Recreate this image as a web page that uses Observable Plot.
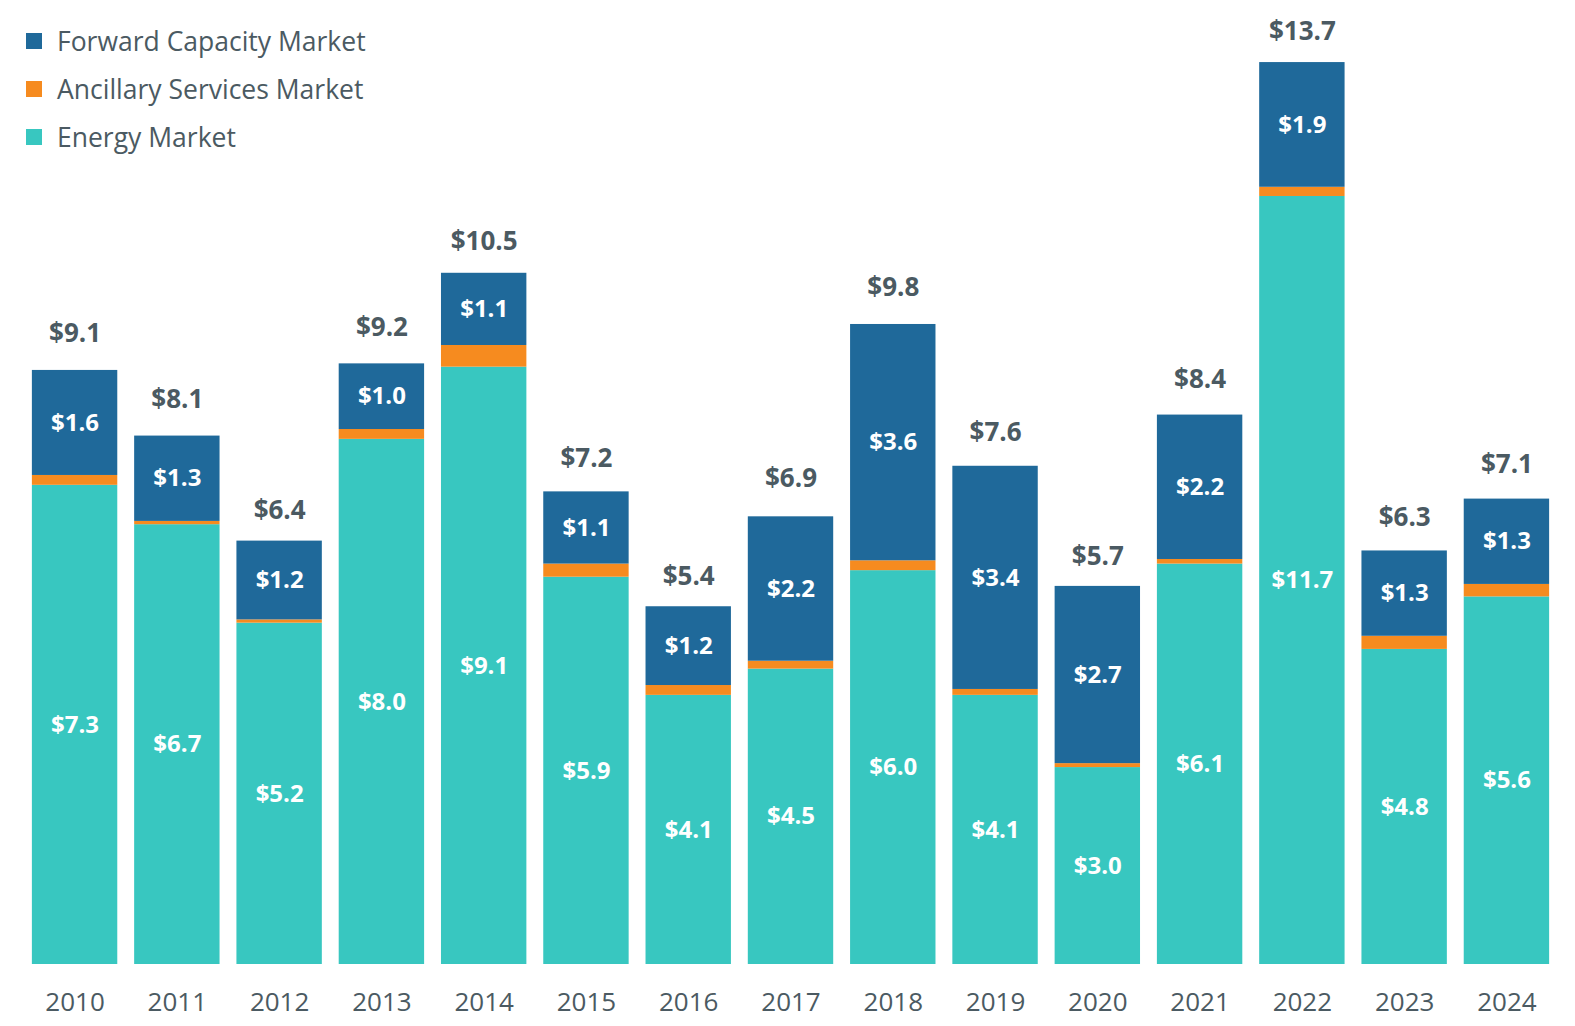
<!DOCTYPE html>
<html>
<head>
<meta charset="utf-8">
<script src="https://cdn.jsdelivr.net/npm/d3@7"></script>
<script src="https://cdn.jsdelivr.net/npm/@observablehq/plot@0.6"></script>
<style>
  html, body { margin: 0; padding: 0; background: #fff; }
  #wrap { position: relative; width: 1575px; height: 1026px; font-family: "Open Sans", sans-serif; }
  #legend { position: absolute; left: 26px; top: 17px; color: #4b5a62; font-size: 26.5px; }
  .row { display: flex; align-items: center; height: 48px; }
  .sw { width: 16px; height: 16px; margin-right: 15px; }
</style>
</head>
<body>
<div id="wrap">
  <div id="chart"></div>
  <div id="legend"></div>
</div>
<script>
const years = [2010, 2011, 2012, 2013, 2014, 2015, 2016, 2017, 2018, 2019, 2020, 2021, 2022, 2023, 2024];
const energy = [7.3, 6.7, 5.2, 8.0, 9.1, 5.9, 4.1, 4.5, 6.0, 4.1, 3.0, 6.1, 11.7, 4.8, 5.6];
const ancillary = [0.15, 0.05, 0.05, 0.15, 0.33, 0.2, 0.15, 0.12, 0.15, 0.09, 0.06, 0.07, 0.14, 0.2, 0.19];
const fcm = [1.6, 1.3, 1.2, 1.0, 1.1, 1.1, 1.2, 2.2, 3.6, 3.4, 2.7, 2.2, 1.9, 1.3, 1.3];
const totals = [9.1, 8.1, 6.4, 9.2, 10.5, 7.2, 5.4, 6.9, 9.8, 7.6, 5.7, 8.4, 13.7, 6.3, 7.1];

const seriesNames = ["Energy Market", "Ancillary Services Market", "Forward Capacity Market"];
const seriesColors = ["#38c7c0", "#f68b1f", "#1f699a"];
const legendOrder = ["Forward Capacity Market", "Ancillary Services Market", "Energy Market"];

const rows = [];
years.forEach((y, i) => {
  rows.push({year: String(y), series: seriesNames[0], value: energy[i]});
  rows.push({year: String(y), series: seriesNames[1], value: ancillary[i]});
  rows.push({year: String(y), series: seriesNames[2], value: fcm[i]});
});
const totalRows = years.map((y, i) => ({year: String(y), total: totals[i]}));

const stackOpts = {x: "year", y: "value", fill: "series", order: seriesNames};

const chart = Plot.plot({
  width: 1575,
  height: 1026,
  marginTop: 45,
  marginBottom: 62,
  marginLeft: 15,
  marginRight: 9,
  style: {fontFamily: "Open Sans, sans-serif", background: "#fff"},
  x: {domain: years.map(String), padding: 0.165, round: false, label: null, tickSize: 0, tickPadding: 28},
  y: {domain: [0, 14], axis: null},
  color: {domain: seriesNames, range: seriesColors},
  marks: [
    Plot.barY(rows, Plot.stackY({...stackOpts})),
    Plot.text(rows, Plot.stackY({
      ...stackOpts,
      fill: null,
      text: d => d.series === "Ancillary Services Market" ? null : "$" + d.value.toFixed(1),
      z: "series"
    })),
    Plot.text(totalRows, {
      x: "year", y: "total",
      text: d => "$" + d.total.toFixed(1),
      lineAnchor: "bottom", dy: -25,
      fill: "#4b5a62", fontWeight: "bold", fontSize: 26
    })
  ]
});

d3.select(chart).selectAll("g[aria-label='text']").each(function(_, i) {
  if (i === 0) d3.select(this).attr("fill", "#fff").attr("font-weight", "bold").attr("font-size", 24);
});
d3.select(chart).selectAll("g[aria-label='x-axis tick label']").attr("font-size", 26).attr("fill", "#4b5a62");

document.getElementById("chart").appendChild(chart);

const legend = d3.select("#legend");
legendOrder.forEach(name => {
  const r = legend.append("div").attr("class", "row");
  r.append("div").attr("class", "sw").style("background", seriesColors[seriesNames.indexOf(name)]);
  r.append("span").text(name);
});
</script>
</body>
</html>
